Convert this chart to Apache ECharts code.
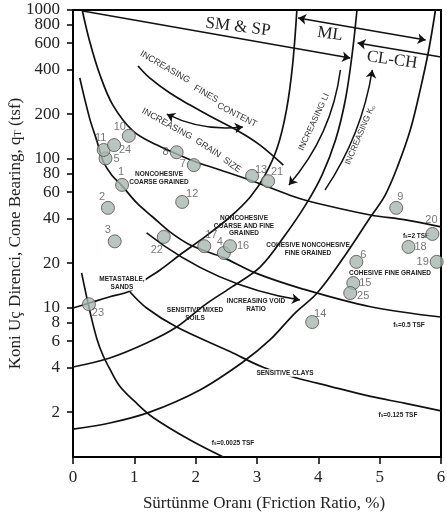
<!DOCTYPE html>
<html><head><meta charset="utf-8">
<script src="https://cdn.jsdelivr.net/npm/echarts@6/dist/echarts.min.js"></script>
<style>html,body{margin:0;padding:0;background:#fff}#c{width:447px;height:523px}</style>
</head><body><div id="c"></div><script>
// ---------- data ----------
const xTicks = [0, 1, 2, 3, 4, 5, 6];
const yTickValues = [2, 4, 6, 8, 10, 20, 40, 60, 80, 100, 200, 400, 600, 800, 1000];

const pointIds = ['1','2','3','4','5','6','7','8','9','10','11','12','13','14','15','16','17','18','19','20','21','22','23','24','25'];
const pointRf  = [0.80,0.57,0.68,2.46,0.53,4.62,1.97,1.69,5.27,0.91,0.50,1.78,2.92,3.90,4.57,2.56,2.14,5.47,5.93,5.86,3.18,1.48,0.26,0.67,4.52];
const pointQc  = [67,47,28,23.4,101,20.4,91,111,47,143,115,51.5,77,8.05,14.7,26,26,25.7,20.4,31.4,71,30,10.6,124,12.6];

// constant sleeve friction curves
const curveFs2     = [[0.15,1000],[0.27,620],[0.44,366],[0.65,230],[0.98,154],[1.37,124],[1.74,106],[1.96,97],[2.40,84.4],[2.97,70.1],[3.62,55.6],[4.03,49.9],[4.85,42.1],[5.42,39],[6.0,35]];
const curveFs05    = [[0.11,350],[0.27,188],[0.39,132],[0.49,97],[0.63,78],[0.80,66],[1.04,50.7],[1.30,40.8],[1.58,32.4],[1.91,26.5],[2.46,21.7],[2.97,17.2],[3.75,13.4],[4.85,10.2],[6.0,8.7]];
const curveFs0125  = [[0.93,12.8],[1.20,10],[1.69,7.45],[2.56,5.1],[3.10,4.0],[3.65,3.39],[4.19,2.98],[4.85,2.55],[5.40,2.3],[6.0,2.04]];
const curveFs00025 = [[0.14,17.2],[0.27,9.7],[0.39,6.2],[0.49,4.8],[0.60,3.9],[0.76,3.0],[1.01,2.35],[1.30,1.85],[1.91,1.30],[2.45,1.0]];
// soil-type boundaries
const boundaryA = [[0,10],[0.27,10.8],[0.60,11.9],[0.93,13],[1.17,15.4],[1.42,18],[1.74,22.7],[2.15,30],[2.56,40.8],[2.89,55.6],[3.13,78],[3.33,119],[3.48,213],[3.58,427],[3.65,1000]];
const boundaryB = [[0,4.02],[0.60,4.62],[1.20,5.82],[1.69,7.45],[2.15,10.5],[2.56,13.6],[3.05,18.8],[3.46,30.9],[3.79,49],[4.06,78],[4.28,134],[4.44,249],[4.55,499],[4.63,1000]];
const boundaryC = [[0,1.54],[0.60,1.69],[1.25,2.0],[2.07,2.82],[2.77,4.34],[3.21,6.1],[3.62,9.25],[3.98,12.6],[4.44,22.7],[4.85,40.8],[5.09,57.3],[5.30,91],[5.50,157],[5.66,290],[5.80,539],[5.91,1000]];
const arcFines = [[1.06,421],[1.25,350],[1.58,277],[1.91,230],[2.23,194],[2.72,152],[3.05,124],[3.43,91]];

// arrows
const arrowSmSp = [[0.16,985],[4.52,476]];
const arrowMl = [[3.67,884],[5.75,629]];
const arrowClCh = [[6.0,484],[4.64,601]];
const arrowGrainFines = [[1.53,200],[2.77,164]];
const arrowLI = [[4.36,396],[3.52,67]];
const arrowKo = [[4.11,62],[4.88,396]];
const arrowVoid = [[1.20,31.9],[3.70,11.3]];

// ---------- styling ----------
const labelOffsets = {
 '1':[-1,-13],'2':[-6,-11],'3':[-7,-11],'4':[-4,-11],'5':[11,1],'6':[7,-7],'7':[-11,-1],'8':[-11,0],
 '9':[4,-11],'10':[-9,-9],'11':[-3,-12],'12':[10,-8],'13':[9,-6],'14':[8,-8],'15':[12,0],'16':[13,0],
 '17':[7,-11],'18':[12,0],'19':[-14,0],'20':[-1,-14],'21':[9,-9],'22':[-7,13],'23':[9,9],'24':[11,5],'25':[13,3]
};
const INK = '#111';
const SERIF = '"Liberation Serif", "DejaVu Serif", serif';
const SANS = '"Liberation Sans", Arial, sans-serif';
const yMax = yTickValues[yTickValues.length - 1];
// log-scale float guard so the top tick is kept inside the extent
const tickPos = yTickValues.map(v => v === yMax ? yMax * 0.999999 : v);
// the top label is drawn separately (ECharts drops it next to its close neighbour)
const labelPos = yTickValues.filter(v => v !== yMax);

function curve(name, data) {
  return { name, type: 'line', data, smooth: 0.35, symbol: 'none', silent: true, clip: true,
           lineStyle: { color: INK, width: 1.7 }, z: 2 };
}

const chart = echarts.init(document.getElementById('c'));

const deg = Math.PI / 180;
function txt(text, x, y, o) {
  o = o || {};
  return { type: 'text', x, y, rotation: (o.rot || 0) * deg, z: o.z || 10, silent: true,
    style: { text, fill: o.color || '#222', fontSize: o.size || 6.5, fontWeight: o.weight || 'bold',
      fontFamily: o.family || SANS, align: o.align || 'center', verticalAlign: 'middle', lineHeight: o.lh || 7.5,
      backgroundColor: o.bg, padding: o.bg ? [0, 1] : 0, rich: o.rich } };
}
const fsRich = { a: { fontSize: 6.5, fontWeight: 'bold', fontFamily: SANS, fill: '#222' },
                 s: { fontSize: 4.5, fontWeight: 'bold', fontFamily: SANS, fill: '#222', verticalAlign: 'bottom', padding: [4,0,0,0] } };

const option = {
  animation: false,
  backgroundColor: '#fff',
  grid: { left: 73, right: 6, top: 10, bottom: 66, show: true, borderColor: '#000', borderWidth: 2,
          containLabel: false, outerBoundsMode: 'none' },
  xAxis: {
    type: 'value', min: 0, max: 6, interval: 1,
    axisLine: { lineStyle: { color: '#000', width: 2 } },
    axisTick: { length: 7, lineStyle: { color: '#000', width: 1.5 } },
    axisLabel: { fontFamily: SERIF, fontSize: 17, color: '#222', margin: 12, showMinLabel: true, showMaxLabel: true },
    splitLine: { show: false },
    name: 'Sürtünme Oranı (Friction Ratio, %)', nameLocation: 'middle', nameGap: 38,
    nameTextStyle: { fontFamily: SERIF, fontSize: 17, color: '#222', padding: [0, 0, 0, 14] }
  },
  yAxis: {
    type: 'log', logBase: 10, min: 1, max: yMax,
    axisLine: { show: true, lineStyle: { color: '#000', width: 2 } },
    axisTick: { show: true, length: 6, lineStyle: { color: '#000', width: 1.5 }, customValues: tickPos },
    axisLabel: { fontFamily: SERIF, fontSize: 17, color: '#222', margin: 13, customValues: labelPos,
                 showMinLabel: true, showMaxLabel: true, hideOverlap: false,
                 formatter: v => String(Math.round(v)) },
    minorTick: { show: false }, splitLine: { show: false },
    name: 'Koni Uç Direnci, Cone Bearing, {q|q}{s|T} (tsf)', nameLocation: 'middle', nameGap: 47,
    nameTextStyle: { fontFamily: SERIF, fontSize: 17, color: '#222',
      rich: { q: { fontFamily: SERIF, fontSize: 17, color: '#222' },
              s: { fontFamily: SERIF, fontSize: 10, color: '#222', verticalAlign: 'bottom', padding: [7,0,0,0] } } }
  },
  series: [
    curve('fs=2', curveFs2), curve('fs=0.5', curveFs05), curve('fs=0.125', curveFs0125), curve('fs=0.0025', curveFs00025),
    curve('A', boundaryA), curve('B', boundaryB), curve('C', boundaryC), curve('arc', arcFines),
    { type: 'lines', coordinateSystem: 'cartesian2d', symbol: ['none', 'arrow'], symbolSize: 8, silent: true, z: 3,
      lineStyle: { color: INK, width: 1.5, opacity: 1 },
      data: [ { coords: arrowSmSp }, { coords: arrowClCh },
              { coords: arrowLI, lineStyle: { curveness: 0.15 } },
              { coords: arrowKo, lineStyle: { curveness: -0.11 } },
              { coords: arrowVoid, lineStyle: { curveness: -0.13 } } ] },
    { type: 'lines', coordinateSystem: 'cartesian2d', symbol: ['arrow', 'arrow'], symbolSize: 8, silent: true, z: 3,
      lineStyle: { color: INK, width: 1.5, opacity: 1 },
      data: [ { coords: arrowMl }, { coords: arrowGrainFines, lineStyle: { curveness: -0.15 } } ] },
    { type: 'scatter', z: 20, clip: false, symbolSize: 13,
      itemStyle: { color: '#a9b6af', borderColor: '#4d4d4d', borderWidth: 1 },
      label: { show: true, position: 'inside', formatter: '{b}', fontFamily: SANS, fontSize: 11, color: '#555' },
      data: pointIds.map((id, i) => ({ name: id, value: [pointRf[i], pointQc[i]], label: { offset: labelOffsets[id] } })) }
  ],
  graphic: [
    txt('SM & SP', 238, 27, { family: SERIF, size: 17, weight: 'normal', rot: -7, lh: 18 }),
    txt('ML', 330, 34, { family: SERIF, size: 17, weight: 'normal', rot: -8, lh: 18 }),
    txt('CL-CH', 392, 60, { family: SERIF, size: 17, weight: 'normal', rot: -8, lh: 18 }),
    txt('INCREASING', 165, 67, { size: 9, weight: 'normal', rot: -30, color: '#333', lh: 10 }),
    txt('FINES', 206, 94, { size: 9, weight: 'normal', rot: -30, color: '#333', lh: 10 }),
    txt('CONTENT', 237, 115, { size: 9, weight: 'normal', rot: -27, color: '#333', lh: 10 }),
    txt('INCREASING', 167, 124, { size: 9, weight: 'normal', rot: -29, color: '#333', lh: 10 }),
    txt('GRAIN', 208, 148, { size: 9, weight: 'normal', rot: -33, color: '#333', lh: 10 }),
    txt('SIZE', 232, 165, { size: 9, weight: 'normal', rot: -35, color: '#333', lh: 10 }),
    txt('INCREASING LI', 314, 122, { size: 8.5, weight: 'normal', rot: 65, color: '#333', lh: 10 }),
    txt('{a|INCREASING K}{s|o}', 360, 135, { size: 8.5, weight: 'normal', rot: 67, color: '#333', lh: 10,
        rich: { a: { fontSize: 8.5, fontFamily: SANS, fill: '#333' }, s: { fontSize: 5.5, fontFamily: SANS, fill: '#333', verticalAlign: 'bottom', padding: [5,0,0,0] } } }),
    txt('NONCOHESIVE\nCOARSE GRAINED', 159, 178),
    txt('NONCOHESIVE\nCOARSE AND FINE\nGRAINED', 244, 226),
    txt('COHESIVE NONCOHESIVE\nFINE GRAINED', 308, 249),
    txt('COHESIVE FINE GRAINED', 390, 273),
    txt('METASTABLE,\nSANDS', 122, 283, { bg: '#fff' }),
    txt('SENSITIVE MIXED\nSOILS', 195, 314),
    txt('INCREASING VOID\nRATIO', 256, 305),
    txt('SENSITIVE CLAYS', 285, 373, { bg: '#fff' }),
    txt('{a|f}{s|s}{a|=2 TSF}', 416, 236, { rich: fsRich }),
    txt('{a|f}{s|s}{a|=0.5 TSF}', 409, 325, { rich: fsRich }),
    txt('{a|f}{s|s}{a|=0.125 TSF}', 398, 415, { rich: fsRich }),
    txt('{a|f}{s|s}{a|=0.0025 TSF}', 233, 443, { rich: fsRich })
  ]
};
chart.setOption(option);

// top y-axis label, placed through the axis scale
const axisX = chart.convertToPixel({ xAxisIndex: 0 }, 0);
const topY = chart.convertToPixel({ yAxisIndex: 0 }, yMax);
chart.setOption({ graphic: option.graphic.concat([
  { type: 'text', x: axisX - 13, y: topY, silent: true, z: 10,
    style: { text: String(yMax), fontFamily: SERIF, fontSize: 17, fill: '#222', align: 'right', verticalAlign: 'middle' } }
]) });
</script></body></html>
